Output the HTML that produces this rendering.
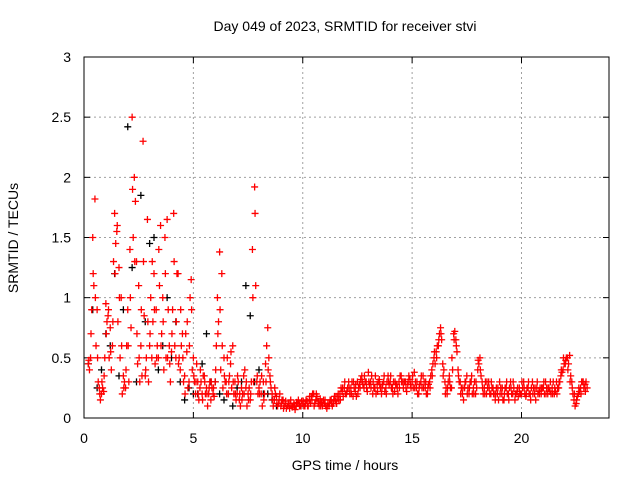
<!DOCTYPE html>
<html><head><meta charset="utf-8"><style>
body{margin:0;background:#fff}
svg{display:block;font-family:"Liberation Sans",sans-serif}
</style></head><body>
<svg id="chart" width="640" height="480" viewBox="0 0 640 480">
<rect width="640" height="480" fill="#fff"/>
<text x="345" y="31" font-size="14" text-anchor="middle">Day 049 of 2023, SRMTID for receiver stvi</text>
<g id="grid"></g>
<g id="ticks"></g>
<g id="black"></g>
<g id="red"></g>
<rect x="84" y="57" width="525" height="361" fill="none" stroke="#000" stroke-width="1"/>
<text transform="translate(18,238) rotate(-90)" font-size="14" text-anchor="middle">SRMTID / TECUs</text>
<text x="345" y="470" font-size="14" text-anchor="middle">GPS time / hours</text>
</svg>
<script>
const xTicks=[0,5,10,15,20];
const yTicks=[0,0.5,1,1.5,2,2.5,3];
const yTickLabels=["0","0.5","1","1.5","2","2.5","3"];
const redStart=0.2, redStep=0.1;
const redA=[0.45,0.5,1.5,1.82,0.9,0.25,0.2,0.22,
0.95,0.85,0.75,0.6,1.7,1.55,1.25,1.0,0.35,0.25,
0.9,1.4,2.5,2.0,1.3,1.1,0.6,2.3,0.35,1.65,
0.6,0.5,1.2,0.9,0.5,1.6,1.0,1.5,1.65,0.6,
0.55,1.7,0.5,1.2,0.4,0.7,0.35,0.55,0.3,1.15,
0.5,0.2,0.3,0.25,0.2,0.35,0.25,0.2,0.15,0.2,
0.3,1.0,1.38,1.2,0.5,0.3,0.2,0.45,0.6,0.3,
0.2,0.15,0.25,0.35,0.25,0.2,0.15,1.4,1.92,0.3,
0.25,0.2,0.3,0.45,0.75,0.35,0.2,0.15,0.18,0.12,
0.1,0.15,0.12,0.1,0.08,0.1,0.12,0.1,0.15,0.1,
0.12,0.1,0.14,0.15,0.18,0.2,0.15,0.12,0.16,0.1,
0.12,0.08,0.1,0.15,0.12,0.14,0.18,0.2,0.22,0.25,
0.2,0.3,0.25,0.18,0.22,0.3,0.28,0.35,0.25,0.3,
0.38,0.3,0.2,0.25,0.28,0.32,0.2,0.3,0.25,0.35,
0.3,0.25,0.22,0.28,0.3,0.35,0.25,0.3,0.28,0.32,
0.3,0.38,0.25,0.2,0.3,0.35,0.25,0.2,0.3,0.4,
0.5,0.55,0.6,0.75,0.45,0.3,0.2,0.35,0.25,0.7,
0.65,0.4,0.3,0.2,0.25,0.35,0.2,0.3,0.25,0.2,
0.4,0.5,0.3,0.25,0.2,0.3,0.2,0.25,0.15,0.2,
0.3,0.2,0.15,0.25,0.2,0.3,0.2,0.15,0.22,0.25,
0.2,0.3,0.18,0.25,0.2,0.3,0.2,0.25,0.22,0.2,
0.25,0.3,0.2,0.22,0.25,0.2,0.3,0.25,0.35,0.4,
0.45,0.5,0.52,0.3,0.15,0.12,0.2,0.25,0.3,0.28,0.25];
const redBStart=0.25;
const redB=[0.4,0.9,1.1,0.6,0.3,0.15,0.25,0.5,
0.8,0.5,0.4,1.3,1.45,0.8,0.5,0.2,0.3,0.6,
0.3,0.75,1.5,1.8,0.45,0.3,0.35,0.85,0.5,0.3,
1.0,0.8,0.45,0.6,1.1,0.7,0.4,0.5,0.9,0.3,
0.9,0.6,1.2,0.5,0.6,0.3,0.7,0.25,1.0,0.4,
0.3,0.45,0.15,0.3,0.35,0.2,0.1,0.3,0.25,0.18,
0.6,0.8,0.4,0.25,0.3,0.5,0.35,0.25,0.2,0.15,
0.3,0.1,0.2,0.4,0.1,0.25,0.3,0.3,1.1,0.2,
0.3,0.1,0.2,0.6,0.5,0.25,0.1,0.2,0.1,0.2,
0.15,0.1,0.08,0.12,0.15,0.1,0.07,0.12,0.1,0.14,
0.1,0.15,0.1,0.12,0.2,0.12,0.18,0.1,0.13,0.15,
0.1,0.12,0.15,0.1,0.18,0.12,0.15,0.25,0.18,0.2,
0.25,0.2,0.3,0.25,0.18,0.25,0.32,0.28,0.3,0.22,
0.28,0.35,0.25,0.2,0.3,0.25,0.28,0.22,0.3,0.28,
0.25,0.3,0.28,0.2,0.35,0.3,0.3,0.22,0.35,0.25,
0.25,0.3,0.2,0.28,0.25,0.3,0.2,0.28,0.35,0.45,
0.45,0.6,0.7,0.65,0.4,0.25,0.3,0.25,0.4,0.72,
0.55,0.3,0.25,0.15,0.3,0.25,0.3,0.2,0.3,0.25,
0.45,0.35,0.2,0.3,0.25,0.2,0.25,0.2,0.25,0.15,
0.25,0.15,0.25,0.2,0.25,0.2,0.25,0.2,0.18,0.2,
0.25,0.2,0.25,0.2,0.25,0.25,0.15,0.2,0.25,0.25,
0.2,0.25,0.25,0.2,0.3,0.22,0.25,0.3,0.38,0.45,
0.5,0.45,0.35,0.2,0.1,0.18,0.22,0.3,0.25,0.3];
const redCStart=0.22;
const redC=[0.48,0.7,1.2,1.0,0.5,0.2,0.3,0.35,
0.7,0.9,0.55,0.8,1.2,1.6,1.0,0.6,0.25,0.4,
0.6,1.0,1.9,1.3,0.7,0.5,0.9,1.3,0.4,0.8,
0.7,1.3,0.9,0.5,1.4,0.6,0.8,1.2,0.5,0.45,
0.7,1.3,0.8,0.45,0.9,0.5,0.2,0.8,0.6,0.9,
0.35,0.3,0.2,0.4,0.15,0.3,0.2,0.25,0.3,0.25,
0.4,0.7,0.9,0.6,0.35,0.2,0.3,0.55,0.3,0.2,
0.35,0.2,0.15,0.2,0.3,0.15,0.2,1.0,1.7,0.35,
0.2,0.35,0.15,0.3,0.4,0.3,0.15,0.25,0.12,0.15,
0.12,0.08,0.14,0.1,0.12,0.09,0.1,0.13,0.12,0.1,
0.14,0.12,0.1,0.18,0.15,0.1,0.2,0.14,0.1,0.12,
0.15,0.1,0.12,0.12,0.15,0.18,0.2,0.15,0.25,0.3,
0.22,0.25,0.2,0.3,0.28,0.2,0.25,0.3,0.35,0.25,
0.3,0.25,0.3,0.35,0.22,0.28,0.25,0.35,0.2,0.3,
0.35,0.2,0.3,0.25,0.25,0.3,0.3,0.25,0.3,0.28,
0.35,0.25,0.3,0.25,0.35,0.25,0.3,0.25,0.25,0.35,
0.55,0.5,0.65,0.7,0.35,0.2,0.25,0.3,0.5,0.65,
0.6,0.35,0.2,0.25,0.3,0.2,0.25,0.35,0.2,0.3,
0.48,0.4,0.25,0.2,0.3,0.25,0.3,0.2,0.2,0.25,
0.2,0.25,0.2,0.3,0.15,0.25,0.3,0.2,0.25,0.2,
0.3,0.25,0.2,0.3,0.15,0.2,0.25,0.3,0.2,0.25,
0.3,0.2,0.25,0.3,0.2,0.25,0.2,0.3,0.4,0.5,
0.48,0.4,0.3,0.25,0.2,0.15,0.25,0.2,0.3,0.22];
const blackStart=0.2, blackStep=0.2;
const blackV=[0.45,0.9,0.25,0.4,0.7,0.6,1.2,0.35,0.9,2.42,1.25,0.3,1.85,0.8,1.45,1.5,0.4,0.6,1.0,0.5,0.8,0.3,0.15,0.25,0.2,0.2,0.45,0.7,0.3,0.3,0.2,0.15,0.2,0.1,0.25,0.3,1.1,0.85,0.3,0.4,0.2,0.2,0.15,0.1];

const NS="http://www.w3.org/2000/svg";
const X0=84,X1=609,Y0=418,Y1=57,XMAX=24,YMAX=3;
const sx=v=>X0+v/XMAX*(X1-X0);
const sy=v=>Y0-v/YMAX*(Y0-Y1);
function mk(tag,attrs,parent){const e=document.createElementNS(NS,tag);for(const k in attrs)e.setAttribute(k,attrs[k]);parent.appendChild(e);return e;}
const grid=document.getElementById('grid'),ticks=document.getElementById('ticks');
xTicks.forEach(t=>{
  const x=sx(t);
  if(t>0){const g=mk('line',{x1:x,x2:x,y1:Y1,y2:Y0,stroke:'#a0a0a0','stroke-dasharray':'2,3'},grid);
  
  }
  mk('line',{x1:x,x2:x,y1:Y0,y2:Y0-6,stroke:'#000'},ticks);
  mk('line',{x1:x,x2:x,y1:Y1,y2:Y1+6,stroke:'#000'},ticks);
  const l=mk('text',{x:x,y:443,'font-size':14,'text-anchor':'middle'},ticks);l.textContent=t;
  
  
});
yTicks.forEach((t,i)=>{
  const y=sy(t);
  if(t>0&&t<YMAX){const g=mk('line',{x1:X0,x2:X1,y1:y,y2:y,stroke:'#a0a0a0','stroke-dasharray':'2,3'},grid);
  
  }
  mk('line',{x1:X0,x2:X0+6,y1:y,y2:y,stroke:'#000'},ticks);
  mk('line',{x1:X1,x2:X1-6,y1:y,y2:y,stroke:'#000'},ticks);
  const l=mk('text',{x:71,y:y+5,'font-size':14,'text-anchor':'end'},ticks);l.textContent=yTickLabels[i];
  
  
});
function plus(g,t,v,color){
  const x=sx(t),y=sy(v);
  const p=mk('path',{d:`M${x-3.5} ${y}h7M${x} ${y-3.5}v7`,stroke:color,'stroke-width':1.3,fill:'none'},g);
  
  
}
const gb=document.getElementById('black'),gr=document.getElementById('red');
blackV.forEach((v,i)=>plus(gb,blackStart+i*blackStep,v,'#000'));
redA.forEach((v,i)=>plus(gr,redStart+i*redStep,v,'#ff0000'));
redB.forEach((v,i)=>plus(gr,redBStart+i*redStep,v,'#ff0000'));
redC.forEach((v,i)=>plus(gr,redCStart+i*redStep,v,'#ff0000'));
</script>
</body></html>
